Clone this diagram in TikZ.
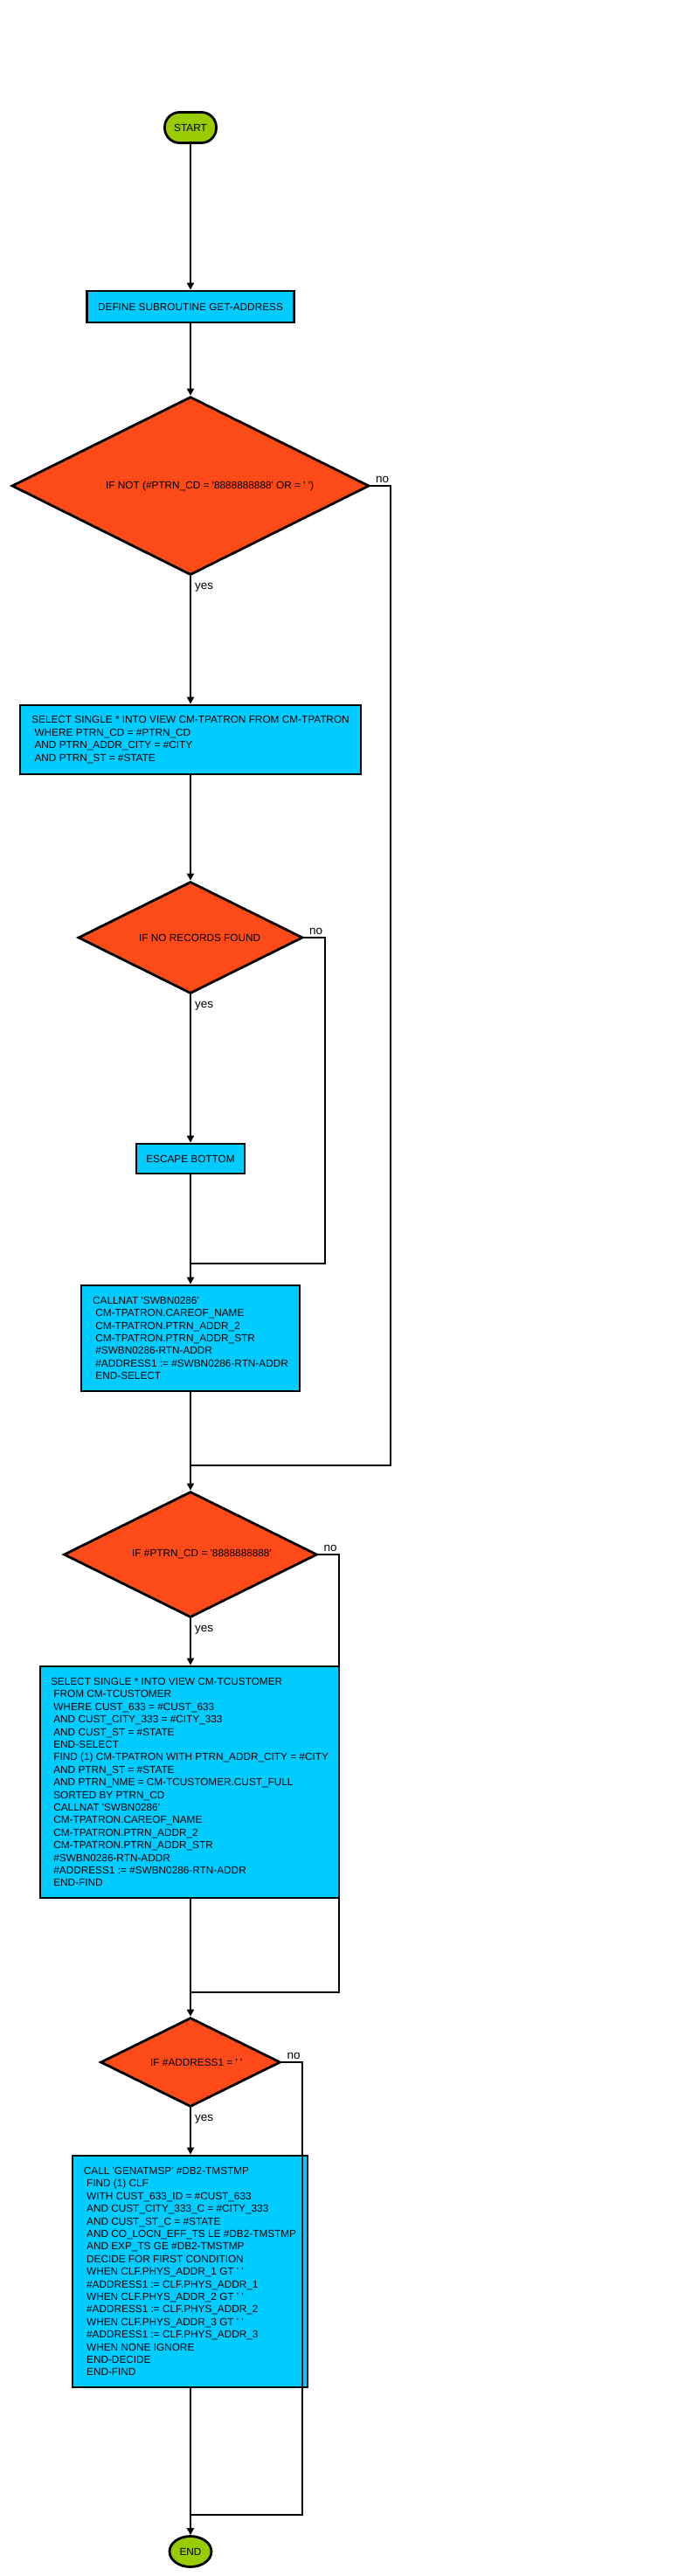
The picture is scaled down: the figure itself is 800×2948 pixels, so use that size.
\documentclass[tikz,border=0pt]{standalone}
\usepackage{fontspec}
\setmainfont{Liberation Sans}
\usetikzlibrary{shapes.geometric,arrows.meta}
\definecolor{termgreen}{RGB}{153,204,0}
\definecolor{procblue}{RGB}{0,204,255}
\definecolor{decred}{RGB}{252,74,24}
\newcommand\qq{\textquotesingle}
\newcommand\ind{\hspace*{0.278em}}
\begin{document}
\begin{tikzpicture}[x=1pt,y=-1pt,
 box/.style={draw=black,line width=2.8pt,fill=procblue,inner sep=0pt,align=left,font=\fontsize{11.8}{14.4}\selectfont},
 term/.style={draw=black,line width=2.8pt,fill=termgreen,inner sep=0pt,font=\fontsize{11.8}{14.4}\selectfont},
 dec/.style={diamond,draw=black,line width=2.8pt,fill=decred,inner sep=0pt},
 dtext/.style={anchor=west,inner sep=0pt,font=\fontsize{11.8}{14.4}\selectfont},
 lbl/.style={anchor=base west,inner sep=0pt,font=\fontsize{13.5}{16}\selectfont},
 conn/.style={line width=2.6pt},
 arr/.style={conn,-{Triangle[length=8pt,width=8pt]}}]
\useasboundingbox (0,0) rectangle (800,2948);

% nodes
\node[term,rounded corners=17pt,minimum width=59pt,minimum height=35pt] (start) at (218,146) {START};
\node[box,minimum width=237pt,minimum height=36pt] (define) at (218,351) {DEFINE SUBROUTINE GET-ADDRESS};

\node[dec,minimum width=409pt,minimum height=204pt] (d1) at (218,556) {};
\node[dtext] (d1t) at (121,556) {IF NOT (\#PTRN\_CD = \qq 8888888888\qq\ OR = \qq\ \qq)};

\node[box,minimum width=390pt,minimum height=79pt] (sel1) at (218,846.5) {SELECT SINGLE * INTO VIEW CM-TPATRON FROM CM-TPATRON\\
\ind WHERE PTRN\_CD = \#PTRN\_CD\\
\ind AND PTRN\_ADDR\_CITY = \#CITY\\
\ind AND PTRN\_ST = \#STATE};

\node[dec,minimum width=257pt,minimum height=128pt] (d2) at (218,1073) {};
\node[dtext] (d2t) at (159,1073) {IF NO RECORDS FOUND};

\node[box,minimum width=124pt,minimum height=34pt] (esc) at (218,1326) {ESCAPE BOTTOM};

\node[box,minimum width=250pt,minimum height=121pt] (calln) at (218,1531.5) {CALLNAT \qq SWBN0286\qq\\
\ind CM-TPATRON.CAREOF\_NAME\\
\ind CM-TPATRON.PTRN\_ADDR\_2\\
\ind CM-TPATRON.PTRN\_ADDR\_STR\\
\ind \#SWBN0286-RTN-ADDR\\
\ind \#ADDRESS1 := \#SWBN0286-RTN-ADDR\\
\ind END-SELECT};

\node[dec,minimum width=290pt,minimum height=144pt] (d3) at (218,1779) {};
\node[dtext] (d3t) at (151,1779) {IF \#PTRN\_CD = \qq 8888888888\qq};

\node[box,minimum width=342pt,minimum height=265pt] (sel2) at (217,2039.5) {SELECT SINGLE * INTO VIEW CM-TCUSTOMER\\
\ind FROM CM-TCUSTOMER\\
\ind WHERE CUST\_633 = \#CUST\_633\\
\ind AND CUST\_CITY\_333 = \#CITY\_333\\
\ind AND CUST\_ST = \#STATE\\
\ind END-SELECT\\
\ind FIND (1) CM-TPATRON WITH PTRN\_ADDR\_CITY = \#CITY\\
\ind AND PTRN\_ST = \#STATE\\
\ind AND PTRN\_NME = CM-TCUSTOMER.CUST\_FULL\\
\ind SORTED BY PTRN\_CD\\
\ind CALLNAT \qq SWBN0286\qq\\
\ind CM-TPATRON.CAREOF\_NAME\\
\ind CM-TPATRON.PTRN\_ADDR\_2\\
\ind CM-TPATRON.PTRN\_ADDR\_STR\\
\ind \#SWBN0286-RTN-ADDR\\
\ind \#ADDRESS1 := \#SWBN0286-RTN-ADDR\\
\ind END-FIND};

\node[dec,minimum width=206pt,minimum height=102pt] (d4) at (218,2360) {};
\node[dtext] (d4t) at (172,2360) {IF \#ADDRESS1 = \qq\ \qq};

\node[box,minimum width=269pt,minimum height=265pt] (box3) at (217.5,2599.5) {CALL \qq GENATMSP\qq\ \#DB2-TMSTMP\\
\ind FIND (1) CLF\\
\ind WITH CUST\_633\_ID = \#CUST\_633\\
\ind AND CUST\_CITY\_333\_C = \#CITY\_333\\
\ind AND CUST\_ST\_C = \#STATE\\
\ind AND CO\_LOCN\_EFF\_TS LE \#DB2-TMSTMP\\
\ind AND EXP\_TS GE \#DB2-TMSTMP\\
\ind DECIDE FOR FIRST CONDITION\\
\ind WHEN CLF.PHYS\_ADDR\_1 GT \qq\ \qq\\
\ind \#ADDRESS1 := CLF.PHYS\_ADDR\_1\\
\ind WHEN CLF.PHYS\_ADDR\_2 GT \qq\ \qq\\
\ind \#ADDRESS1 := CLF.PHYS\_ADDR\_2\\
\ind WHEN CLF.PHYS\_ADDR\_3 GT \qq\ \qq\\
\ind \#ADDRESS1 := CLF.PHYS\_ADDR\_3\\
\ind WHEN NONE IGNORE\\
\ind END-DECIDE\\
\ind END-FIND};

\node[term,ellipse,minimum width=48pt,minimum height=35pt] (end) at (218,2920) {END};

% coordinates for no-branches
\coordinate (n1) at (447,1677);
\coordinate (n2) at (372,1446);
\coordinate (n3) at (388,2280);
\coordinate (n4) at (346,2878);

% connectors
\draw[arr] (start) -- (define);
\draw[arr] (define) -- (d1);
\draw[arr] (d1) -- (sel1);
\draw[arr] (sel1) -- (d2);
\draw[arr] (d2) -- (esc);
\draw[arr] (esc) -- (calln);
\draw[arr] (calln) -- (d3);
\draw[arr] (d3.south) -- (d3.south |- sel2.north);
\draw[arr] (sel2.south -| d4.north) -- (d4.north);
\draw[arr] (d4) -- (box3.north -| d4.south);
\draw[arr] (box3.south -| end.north) -- (end);

\draw[conn] (d1.east) -| (n1) -- (d3.north |- n1);
\draw[conn] (d2.east) -| (n2) -- (esc.south |- n2);
\draw[conn] (d3.east) -| (n3) -- (d4.north |- n3);
\draw[conn] (d4.east) -| (n4) -- (end.north |- n4);

% labels
\node[lbl,xshift=5pt,yshift=-15pt] (y1) at (d1.south) {yes};
\node[lbl,xshift=6pt,yshift=4pt] (no1) at (d1.east) {no};
\node[lbl,xshift=5pt,yshift=-15pt] (y2) at (d2.south) {yes};
\node[lbl,xshift=6pt,yshift=4pt] (no2) at (d2.east) {no};
\node[lbl,xshift=5pt,yshift=-15pt] (y3) at (d3.south) {yes};
\node[lbl,xshift=6pt,yshift=4pt] (no3) at (d3.east) {no};
\node[lbl,xshift=5pt,yshift=-15pt] (y4) at (d4.south) {yes};
\node[lbl,xshift=6pt,yshift=4pt] (no4) at (d4.east) {no};
\end{tikzpicture}
\end{document}
